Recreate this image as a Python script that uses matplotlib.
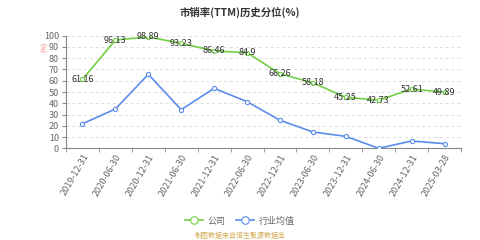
import matplotlib
matplotlib.use("Agg")
import matplotlib.pyplot as plt
import numpy as np

plt.rcParams['font.family'] = ['Noto Sans CJK SC', 'DejaVu Sans']

dates = ["2019-12-31", "2020-06-30", "2020-12-31", "2021-06-30", "2021-12-31", "2022-06-30",
         "2022-12-31", "2023-06-30", "2023-12-31", "2024-06-30", "2024-12-31", "2025-03-28"]
company = [61.16, 96.13, 98.89, 93.23, 86.46, 84.9, 66.26, 58.18, 45.25, 42.73, 52.61, 49.89]
industry = [21.8, 34.9, 65.7, 34.3, 53.3, 41.4, 24.9, 14.5, 10.6, 0.0, 6.5, 4.1]

green = '#72cf45'
blue = '#5b8ceb'
grey = '#666666'

fig = plt.figure(figsize=(4.8, 2.4), dpi=100)
ax = fig.add_axes([66/480, 1-148.3/240, (461-66)/480, (148.3-35.7)/240])

x = np.arange(len(dates))
ax.plot(x, company, color=green, lw=1.2, marker='o', ms=3, mfc='white', mec=green, mew=0.8, label='公司', zorder=3)
ax.plot(x, industry, color=blue, lw=1.2, marker='o', ms=3, mfc='white', mec=blue, mew=0.8, label='行业均值', zorder=3)

for xi, v in zip(x, company):
    ax.text(xi, v, f"{v:g}", ha='center', va='center', fontsize=6.5, color='#333333', zorder=4)

ax.set_xlim(-0.5, len(dates) - 0.5)
ax.set_ylim(0, 100)
ax.set_yticks(range(0, 101, 10))
ax.set_xticks(x)
ax.set_xticklabels(dates, rotation=60, ha='right', rotation_mode='anchor', fontsize=6.5, color=grey)
ax.set_xticks(np.arange(-0.5, len(dates)), minor=True)
ax.tick_params(axis='x', which='major', length=0, pad=3)
ax.tick_params(axis='x', which='minor', length=3, color='#888888')
ax.tick_params(axis='y', length=3, labelsize=6.5, labelcolor=grey, color='#888888', pad=2)
ax.grid(axis='y', ls=(0, (3, 3)), color='#dddddd', lw=0.7)
for s in ['top', 'right']:
    ax.spines[s].set_visible(False)
for s in ['left', 'bottom']:
    ax.spines[s].set_color('#888888')
    ax.spines[s].set_linewidth(0.8)

fig.text(0.5, 1-12/240, "市销率(TTM)历史分位(%)", ha='center', va='center', fontsize=7.5, fontweight='bold', color='#333333')
fig.text(45/480, 1-47/240, "(%)", ha='center', va='center', fontsize=4.5, color='#e86a6a', rotation=90)

fig.legend(loc='center', bbox_to_anchor=(0.5, 1-221/240), ncol=2, frameon=False, fontsize=6.5,
           handlelength=2, columnspacing=1.2, handletextpad=0.5, labelcolor=grey, markerscale=1.8)
fig.text(0.5, 1-236/240, "制图数据来自恒生聚源数据库", ha='center', va='center', fontsize=5, color='#d4aa55')

fig.savefig("out.png", dpi=100)
